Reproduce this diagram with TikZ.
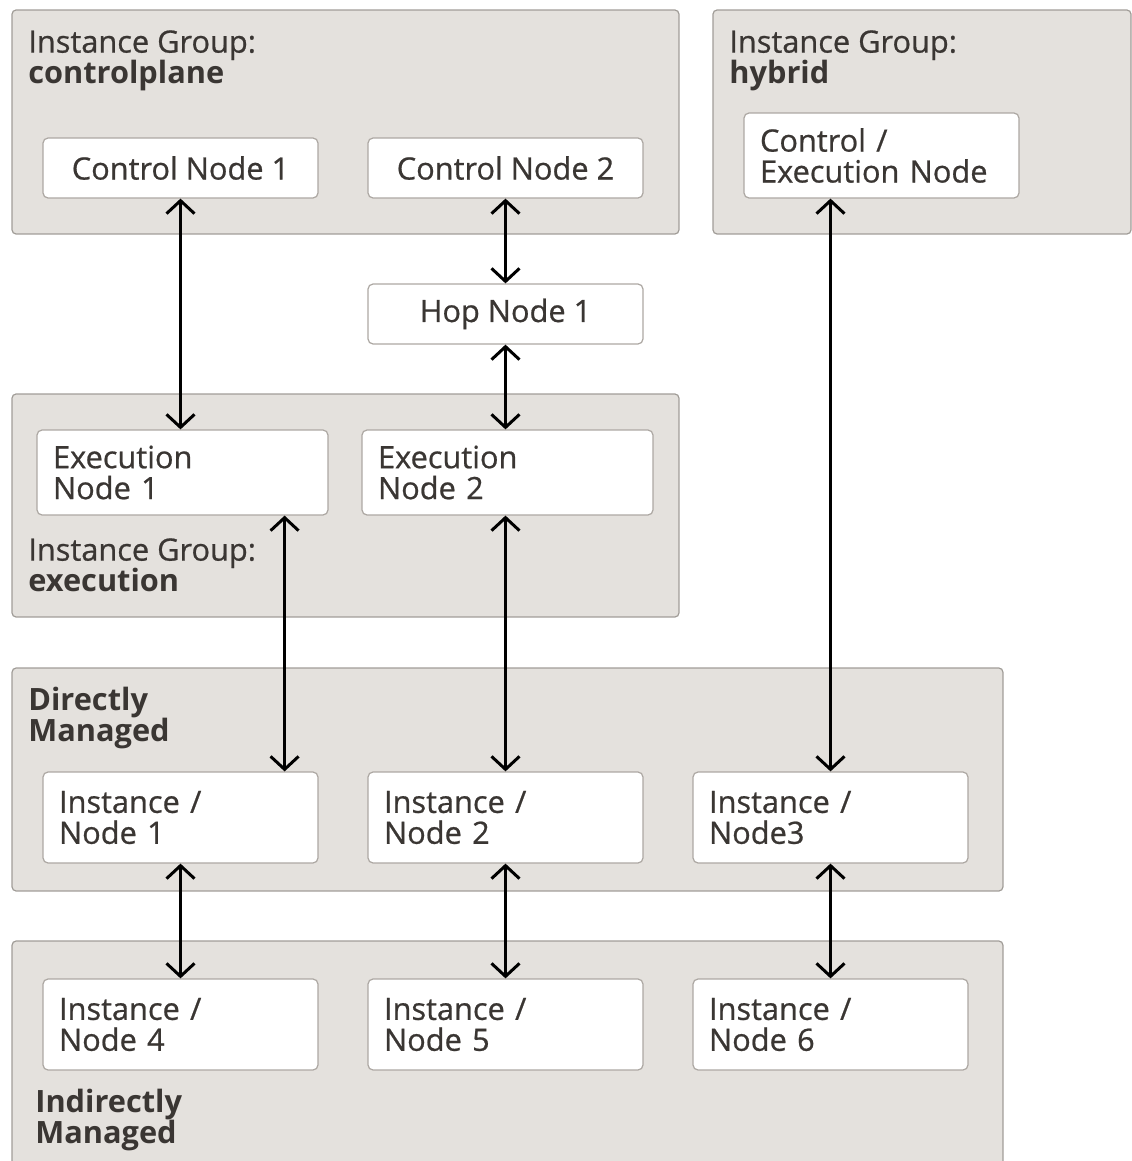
\documentclass[tikz,border=0pt]{standalone}
\usepackage{fontspec}
\setmainfont{Open Sans}[UprightFeatures={FakeBold=0.7}]
\usetikzlibrary{calc,positioning,arrows.meta}

\definecolor{group_fill}{HTML}{E4E1DD}
\definecolor{group_line}{HTML}{A19D98}
\definecolor{box_line}{HTML}{ADA8A3}
\definecolor{label_text}{HTML}{3A3633}

\tikzset{
  group_box/.style={draw=group_line,fill=group_fill,rounded corners=0.08cm,line width=0.7pt,inner sep=0},
  node_box/.style={draw=box_line,fill=white,rounded corners=0.1cm,line width=0.7pt,
    minimum width=5.5cm,minimum height=1.2cm,inner sep=0,text=label_text,
    font=\fontsize{17.5}{17.6}\selectfont},
  left_box/.style={node_box,align=left,inner xsep=0.32cm,text width=#1},
  group_label/.style={anchor=north west,inner sep=0,align=left,text=label_text,
    font=\fontsize{17.5}{17.6}\selectfont},
  link/.style={{Straight Barb[length=0.26cm,width=0.56cm]}-{Straight Barb[length=0.26cm,width=0.56cm]},
    line width=1.7pt,black}
}

\begin{document}
\begin{tikzpicture}[x=0.02cm,y=-0.02cm]

  \clip (0,0) rectangle (1132,1161);

  % groups
  \node [group_box,minimum width=13.34cm,minimum height=4.48cm] at(345.5,122) (grp_control) {};
  \node [group_box,minimum width=8.36cm,minimum height=4.48cm] at(922,122) (grp_hybrid) {};
  \node [group_box,minimum width=13.34cm,minimum height=4.46cm] at(345.5,505.5) (grp_exec) {};
  \node [group_box,minimum width=19.82cm,minimum height=4.46cm] at(507.5,779.5) (grp_direct) {};
  \node [group_box,minimum width=19.82cm,minimum height=4.78cm] at(507.5,1060.5) (grp_indirect) {};

  \node [group_label] at(28,30) (lbl_control) {Instance Group:\\\textbf{controlplane}};
  \node [group_label] at(729,30) (lbl_hybrid) {Instance Group:\\\textbf{hybrid}};
  \node [group_label] at(28,538) (lbl_exec) {Instance Group:\\\textbf{execution}};
  \node [group_label] at(28,687) (lbl_direct) {\textbf{Directly}\\\textbf{Managed}};
  \node [group_label] at(35,1089) (lbl_indirect) {\textbf{Indirectly}\\\textbf{Managed}};

  % control / hop / execution nodes
  \node [node_box] at(180.5,168) (cn_1) {Control Node 1};
  \node [node_box] at(505.5,168) (cn_2) {Control Node 2};
  \node [left_box=4.86cm,minimum height=1.7cm] at(881.5,155.5) (cen) {Control /\\Execution Node};
  \node [node_box] at(505.5,314) (hop_1) {Hop Node 1};
  \node [left_box=5.18cm,minimum height=1.7cm] at(182.5,472.5) (en_1) {Execution\\Node 1};
  \node [left_box=5.18cm,minimum height=1.7cm] at(507.5,472.5) (en_2) {Execution\\Node 2};

  % managed instances
  \foreach \n/\xc/\txt in {1/180.5/Node 1, 2/505.5/Node 2, 3/830.5/Node3}{
    \node [left_box=4.86cm,minimum height=1.82cm] at(\xc,817.5) (in_\n) {Instance /\\\txt};
  }
  \foreach \n/\xc in {4/180.5, 5/505.5, 6/830.5}{
    \node [left_box=4.86cm,minimum height=1.82cm] at(\xc,1024.5) (in_\n) {Instance /\\Node \n};
  }

  % links
  \draw [link] (cn_1.south) -- (cn_1.south |- en_1.north);
  \draw [link] (cn_2.south) -- (hop_1.north);
  \draw [link] (hop_1.south) -- (hop_1.south |- en_2.north);
  \coordinate (en_1_tap) at ($(en_1.south east)+(-44,0)$);
  \draw [link] (en_1_tap) -- (en_1_tap |- in_1.north);
  \draw [link] (in_2.north) -- (in_2.north |- en_2.south);
  \draw [link] (in_3.north) -- (in_3.north |- cen.south);
  \foreach \n in {1,2,3}{
    \pgfmathtruncatemacro{\m}{\n+3}
    \draw [link] (in_\n.south) -- (in_\m.north);
  }
\end{tikzpicture}
\end{document}
